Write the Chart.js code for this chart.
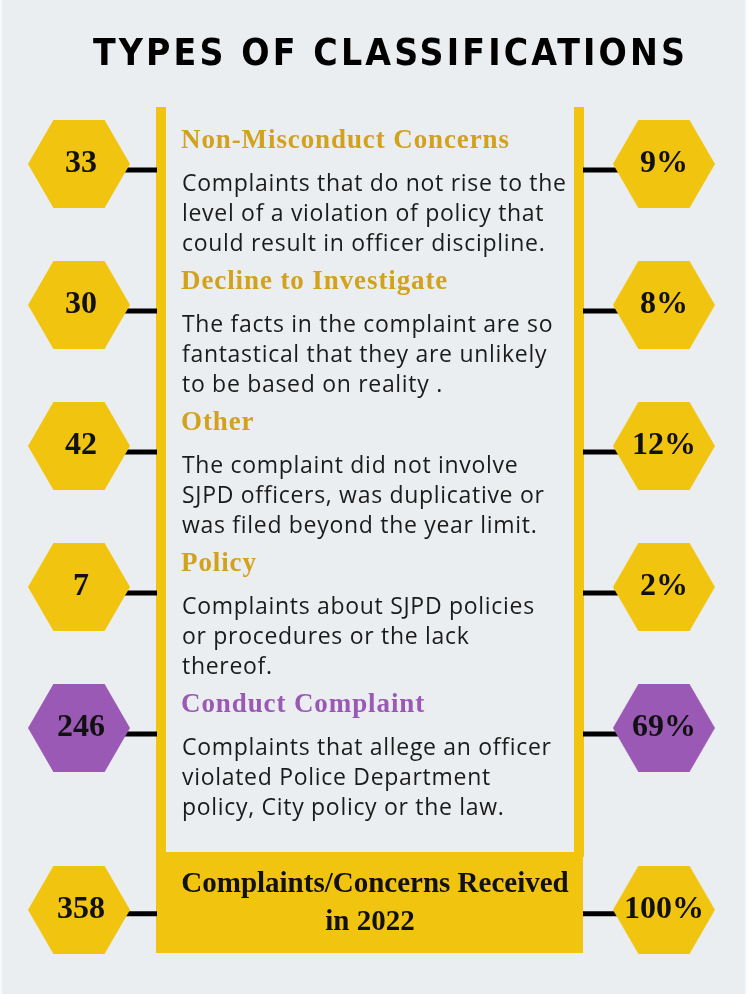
<!DOCTYPE html>
<html>
<head>
<meta charset="utf-8">
<script src="https://cdn.jsdelivr.net/npm/chart.js@4.4.1/dist/chart.umd.min.js"></script>
<style>
  html, body { margin: 0; padding: 0; background: #ffffff; }
  #wrap { width: 747px; height: 994px; }
</style>
</head>
<body>
<div id="wrap"><canvas id="typesChart" width="747" height="994"></canvas></div>
<script>
const title = "TYPES OF CLASSIFICATIONS";
const categories = [
  "Non-Misconduct Concerns",
  "Decline to Investigate",
  "Other",
  "Policy",
  "Conduct Complaint",
];
const descriptions = [
  ["Complaints that do not rise to the", "level of a violation of policy that", "could result in officer discipline."],
  ["The facts in the complaint are so", "fantastical that they are unlikely", "to be based on reality ."],
  ["The complaint did not involve", "SJPD officers, was duplicative or", "was filed beyond the year limit."],
  ["Complaints about SJPD policies", "or procedures or the lack", "thereof."],
  ["Complaints that allege an officer", "violated Police Department", "policy, City policy or the law."],
];
const counts = [33, 30, 42, 7, 246];
const percents = [9, 8, 12, 2, 69];
const totalLabel = ["Complaints/Concerns Received", "in 2022"];
const totalCount = 358;
const totalPercent = 100;
const highlighted = "Conduct Complaint";

// layout
const rowSlots = [0, 1, 2, 3, 4, 5.29];
const YELLOW = "#f1c40f";
const PURPLE = "#9b59b6";
const GOLD = "#d3a21c";
const BG = "#ebeef0";

const allCounts = counts.concat(totalCount);
const allPercents = percents.concat(totalPercent);
const isHighlight = (i) => categories[i] === highlighted;

function makeHex(color) {
  const r = 51;
  const w = 2 * r;
  const h = Math.round(Math.sqrt(3) * r);
  const c = document.createElement("canvas");
  c.width = w;
  c.height = h;
  const g = c.getContext("2d");
  g.fillStyle = color;
  g.beginPath();
  for (let k = 0; k < 6; k++) {
    const a = (Math.PI / 3) * k;
    const px = r + r * Math.cos(a);
    const py = h / 2 + r * Math.sin(a);
    if (k === 0) g.moveTo(px, py);
    else g.lineTo(px, py);
  }
  g.closePath();
  g.fill();
  return c;
}
const hexYellow = makeHex(YELLOW);
const hexPurple = makeHex(PURPLE);

const framePlugin = {
  id: "frame",
  beforeDraw(chart) {
    const ctx = chart.ctx;
    ctx.save();
    ctx.fillStyle = BG;
    ctx.fillRect(0, 0, chart.width, chart.height);
    ctx.fillStyle = "#f7f8f9";
    ctx.fillRect(0, 0, 2, chart.height);
    ctx.fillRect(chart.width - 2, 0, 2, chart.height);
    ctx.restore();
  },
  beforeDatasetsDraw(chart) {
    const ctx = chart.ctx;
    const xs = chart.scales.x;
    const ys = chart.scales.y;
    ctx.save();

    // title
    ctx.fillStyle = "#000";
    ctx.font = "bold 37px 'DejaVu Sans Condensed', 'DejaVu Sans', sans-serif";
    ctx.textBaseline = "alphabetic";
    ctx.textAlign = "left";
    ctx.letterSpacing = "0px";
    const tw = ctx.measureText(title).width;
    const spacing = (592 - tw) / (title.length - 1);
    ctx.letterSpacing = spacing + "px";
    ctx.fillText(title, 93, 65);
    ctx.letterSpacing = "0px";

    // vertical bars
    ctx.fillStyle = YELLOW;
    ctx.fillRect(156, 107, 10, 750);
    ctx.fillRect(574, 107, 10, 750);
    // total box
    ctx.fillRect(156, 852, 427, 101);

    // connectors
    ctx.strokeStyle = "#000";
    ctx.lineWidth = 5;
    rowSlots.forEach((slot, i) => {
      const y = ys.getPixelForValue(slot) + (i === rowSlots.length - 1 ? 4 : 6);
      const lx = xs.getPixelForValue(0) + 46;
      const rx = xs.getPixelForValue(1) - 46;
      ctx.beginPath();
      ctx.moveTo(lx, y);
      ctx.lineTo(157, y);
      ctx.moveTo(583, y);
      ctx.lineTo(rx, y);
      ctx.stroke();
    });

    // category text
    categories.forEach((cat, i) => {
      const base = ys.getPixelForValue(rowSlots[i]) - 16;
      ctx.fillStyle = isHighlight(i) ? PURPLE : GOLD;
      ctx.font = "bold 27px 'Liberation Serif', 'DejaVu Serif', serif";
      ctx.letterSpacing = "0.9px";
      ctx.fillText(cat, 181, base);
      ctx.fillStyle = "#1b1b1b";
      ctx.font = "23px 'Open Sans', sans-serif";
      ctx.letterSpacing = "0.7px";
      descriptions[i].forEach((line, k) => {
        ctx.fillText(line, 182, base + 43 + 30 * k);
      });
    });
    ctx.letterSpacing = "0px";

    // total text
    ctx.fillStyle = "#111";
    ctx.textAlign = "center";
    ctx.font = "bold 29px 'Liberation Serif', 'DejaVu Serif', serif";
    ctx.fillText(totalLabel[0], 375, 892);
    ctx.fillText(totalLabel[1], 370, 930);
    ctx.restore();
  },
  afterDatasetsDraw(chart) {
    const ctx = chart.ctx;
    ctx.save();
    ctx.fillStyle = "#111";
    ctx.textAlign = "center";
    ctx.textBaseline = "middle";
    ctx.font = "bold 32px 'Liberation Serif', 'DejaVu Serif', serif";
    chart.getDatasetMeta(0).data.forEach((pt, i) => {
      ctx.fillText(String(allCounts[i]), pt.x + 2, pt.y);
    });
    chart.getDatasetMeta(1).data.forEach((pt, i) => {
      ctx.fillText(allPercents[i] + "%", pt.x, pt.y);
    });
    ctx.restore();
  },
};

const hexStyle = (c) => (isHighlight(c.dataIndex) ? hexPurple : hexYellow);

new Chart(document.getElementById("typesChart").getContext("2d"), {
  type: "scatter",
  data: {
    datasets: [
      {
        label: "Complaints",
        data: allCounts.map((v, i) => ({ x: 0, y: rowSlots[i] })),
        pointStyle: hexStyle,
        pointRadius: 20,
      },
      {
        label: "Share",
        data: allPercents.map((v, i) => ({ x: 1, y: rowSlots[i] })),
        pointStyle: hexStyle,
        pointRadius: 20,
      },
    ],
  },
  options: {
    responsive: false,
    animation: false,
    events: [],
    layout: { padding: 0, autoPadding: false },
    plugins: {
      legend: { display: false },
      tooltip: { enabled: false },
    },
    scales: {
      x: { type: "linear", display: false, min: -0.135, max: 1.142 },
      y: { type: "linear", display: false, reverse: true, min: -1.163, max: 5.887 },
    },
  },
  plugins: [framePlugin],
});
</script>
</body>
</html>
